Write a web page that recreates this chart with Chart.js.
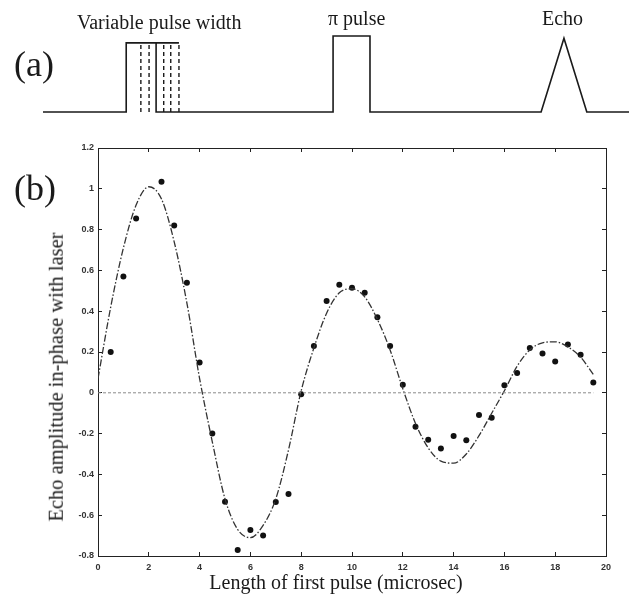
<!DOCTYPE html>
<html>
<head>
<meta charset="utf-8">
<script src="https://cdn.jsdelivr.net/npm/chart.js@4.4.1/dist/chart.umd.min.js"></script>
<style>
  html, body { margin:0; padding:0; background:#fff; }
  body { width:629px; height:603px; position:relative; overflow:hidden; font-family:"Liberation Serif", serif; color:#1a1a1a; }
  canvas { position:absolute; left:0; }
  .lbl { position:absolute; white-space:nowrap; line-height:1; }
</style>
</head>
<body>
<canvas id="pulse" width="629" height="130" style="top:0"></canvas>
<canvas id="main" width="629" height="473" style="top:130px"></canvas>

<div class="lbl" style="left:14px; top:46px; font-size:36px;">(a)</div>
<div class="lbl" style="left:14px; top:170px; font-size:36px;">(b)</div>
<div class="lbl" style="left:77px; top:12px; font-size:20px;">Variable pulse width</div>
<div class="lbl" style="left:328px; top:8px; font-size:20px;">π pulse</div>
<div class="lbl" style="left:542px; top:8px; font-size:20px;">Echo</div>
<div class="lbl" style="left:336px; top:582px; font-size:20px; transform:translate(-50%,-50%);">Length of first pulse (microsec)</div>
<div class="lbl" style="left:56px; top:377px; font-size:20.5px; transform:translate(-50%,-50%) rotate(-90deg);">Echo amplitude in-phase with laser</div>

<script>
// ---------- panel (b) data ----------
const xTicks = [0, 2, 4, 6, 8, 10, 12, 14, 16, 18, 20];
const xTickLabels = ['0', '2', '4', '6', '8', '10', '12', '14', '16', '18', '20'];
const yTicks = [-0.8, -0.6, -0.4, -0.2, 0, 0.2, 0.4, 0.6, 0.8, 1, 1.2];
const yTickLabels = ['-0.8', '-0.6', '-0.4', '-0.2', '0', '0.2', '0.4', '0.6', '0.8', '1', '1.2'];

const measuredX = [0.5, 1.0, 1.5, 2.5, 3.0, 3.5, 4.0, 4.5, 5.0, 5.5,
                   6.0, 6.5, 7.0, 7.5, 8.0, 8.5, 9.0, 9.5, 10.0, 10.5,
                   11.0, 11.5, 12.0, 12.5, 13.0, 13.5, 14.0, 14.5, 15.0, 15.5,
                   16.0, 16.5, 17.0, 17.5, 18.0, 18.5, 19.0, 19.5];
const measuredY = [0.20, 0.57, 0.855, 1.035, 0.82, 0.54, 0.148, -0.20, -0.534, -0.77,
                   -0.673, -0.70, -0.535, -0.496, -0.007, 0.23, 0.45, 0.53, 0.515, 0.49,
                   0.37, 0.23, 0.04, -0.166, -0.23, -0.273, -0.212, -0.233, -0.109, -0.122,
                   0.037, 0.097, 0.22, 0.193, 0.153, 0.237, 0.187, 0.05];

const fitX = [0, 0.5, 1.0, 1.5, 2.0, 2.5, 3.0, 3.5, 4.0, 4.5,
              5.0, 5.5, 6.0, 6.5, 7.0, 7.5, 8.0, 8.5, 9.0, 9.5,
              10.0, 10.5, 11.0, 11.5, 12.0, 12.5, 13.0, 13.5, 14.0, 14.5,
              15.0, 15.5, 16.0, 16.5, 17.0, 17.5, 18.0, 18.5, 19.0, 19.5];
const fitY = [0.07, 0.42, 0.71, 0.92, 1.01, 0.95, 0.74, 0.44, 0.07, -0.24,
              -0.52, -0.67, -0.71, -0.65, -0.52, -0.28, 0.01, 0.22, 0.39, 0.49,
              0.51, 0.47, 0.36, 0.21, 0.02, -0.15, -0.27, -0.335, -0.345, -0.30,
              -0.21, -0.10, 0.01, 0.13, 0.21, 0.245, 0.25, 0.225, 0.175, 0.09];

const zeroLineX = [0, 19.5];
const zeroLineY = [0, 0];

// ---------- panel (a) schematic data (time units 0..100, level 0..1) ----------
const pulseTimes  = [0, 14.2, 14.2, 23.2, 23.2, 19.3, 19.3, 49.5, 49.5, 55.8, 55.8, 85.0, 88.9, 92.8, 100];
const pulseLevels = [0, 0,    0.91, 0.91, null, 0.91, 0,    0,    1,    1,    0,    0,    0.97, 0,    0];
const dashTimes = [16.7, 18.1, 20.6, 21.8, 23.2];
const dashTop = 0.91;

// ---------- build ----------
const zip = (xs, ys) => xs.map((x, i) => ({x: x, y: ys[i]}));

const dashPoints = [];
dashTimes.forEach(t => { dashPoints.push({x: t, y: 0}, {x: t, y: dashTop}, {x: t, y: null}); });

new Chart(document.getElementById('pulse'), {
  type: 'line',
  data: {
    datasets: [
      { data: zip(pulseTimes, pulseLevels), borderColor: '#1a1a1a', borderWidth: 1.6, pointRadius: 0, tension: 0, spanGaps: false, clip: false },
      { data: dashPoints, borderColor: '#1a1a1a', borderWidth: 1.4, borderDash: [4, 3], pointRadius: 0, tension: 0, spanGaps: false, clip: false }
    ]
  },
  options: {
    responsive: false, animation: false, devicePixelRatio: 1,
    layout: { padding: { left: 43, right: 0, top: 36, bottom: 18 } },
    plugins: { legend: { display: false }, tooltip: { enabled: false } },
    scales: {
      x: { type: 'linear', min: 0, max: 100, display: false },
      y: { type: 'linear', min: 0, max: 1, display: false }
    }
  }
});

const setTicks = (vals) => (scale) => { scale.ticks = vals.map(v => ({value: v})); };
const tickFont = { family: 'Liberation Sans', size: 9, weight: 'bold' };

new Chart(document.getElementById('main'), {
  type: 'line',
  data: {
    datasets: [
      { data: zip(zeroLineX, zeroLineY), borderColor: '#8a8a8a', borderWidth: 1, borderDash: [3, 2], pointRadius: 0, tension: 0 },
      { data: zip(fitX, fitY), borderColor: '#333', borderWidth: 1.3, borderDash: [7, 2, 1.5, 2], pointRadius: 0, cubicInterpolationMode: 'monotone' },
      { data: zip(measuredX, measuredY), showLine: false, pointRadius: 3, pointBackgroundColor: '#111', pointBorderColor: '#111', pointBorderWidth: 0 }
    ]
  },
  options: {
    responsive: false, animation: false, devicePixelRatio: 1,
    layout: { padding: { left: 0, right: 23, top: 18, bottom: 0 } },
    plugins: { legend: { display: false }, tooltip: { enabled: false } },
    scales: {
      x: {
        type: 'linear', position: 'bottom', min: 0, max: 20,
        afterBuildTicks: setTicks(xTicks),
        afterFit: (s) => { s.height = 47; },
        ticks: { font: tickFont, color: '#333', padding: 10, maxRotation: 0, autoSkip: false,
                 callback: (v, i) => xTickLabels[i] },
        grid: { drawOnChartArea: false, drawTicks: true, tickLength: -4, color: '#222' },
        border: { display: true, color: '#222', width: 1 }
      },
      x2: {
        type: 'linear', position: 'top', min: 0, max: 20,
        afterBuildTicks: setTicks(xTicks),
        afterFit: (s) => { s.height = 0; },
        ticks: { display: false },
        grid: { drawOnChartArea: false, drawTicks: true, tickLength: -4, color: '#222' },
        border: { display: true, color: '#222', width: 1 }
      },
      y: {
        type: 'linear', position: 'left', min: -0.8, max: 1.2,
        afterBuildTicks: setTicks(yTicks),
        afterFit: (s) => { s.width = 98; },
        ticks: { font: tickFont, color: '#333', padding: 8, autoSkip: false,
                 callback: (v, i) => yTickLabels[i] },
        grid: { drawOnChartArea: false, drawTicks: true, tickLength: -4, color: '#222' },
        border: { display: true, color: '#222', width: 1 }
      },
      y2: {
        type: 'linear', position: 'right', min: -0.8, max: 1.2,
        afterBuildTicks: setTicks(yTicks),
        afterFit: (s) => { s.width = 0; },
        ticks: { display: false },
        grid: { drawOnChartArea: false, drawTicks: true, tickLength: -4, color: '#222' },
        border: { display: true, color: '#222', width: 1 }
      }
    }
  }
});
</script>
</body>
</html>
